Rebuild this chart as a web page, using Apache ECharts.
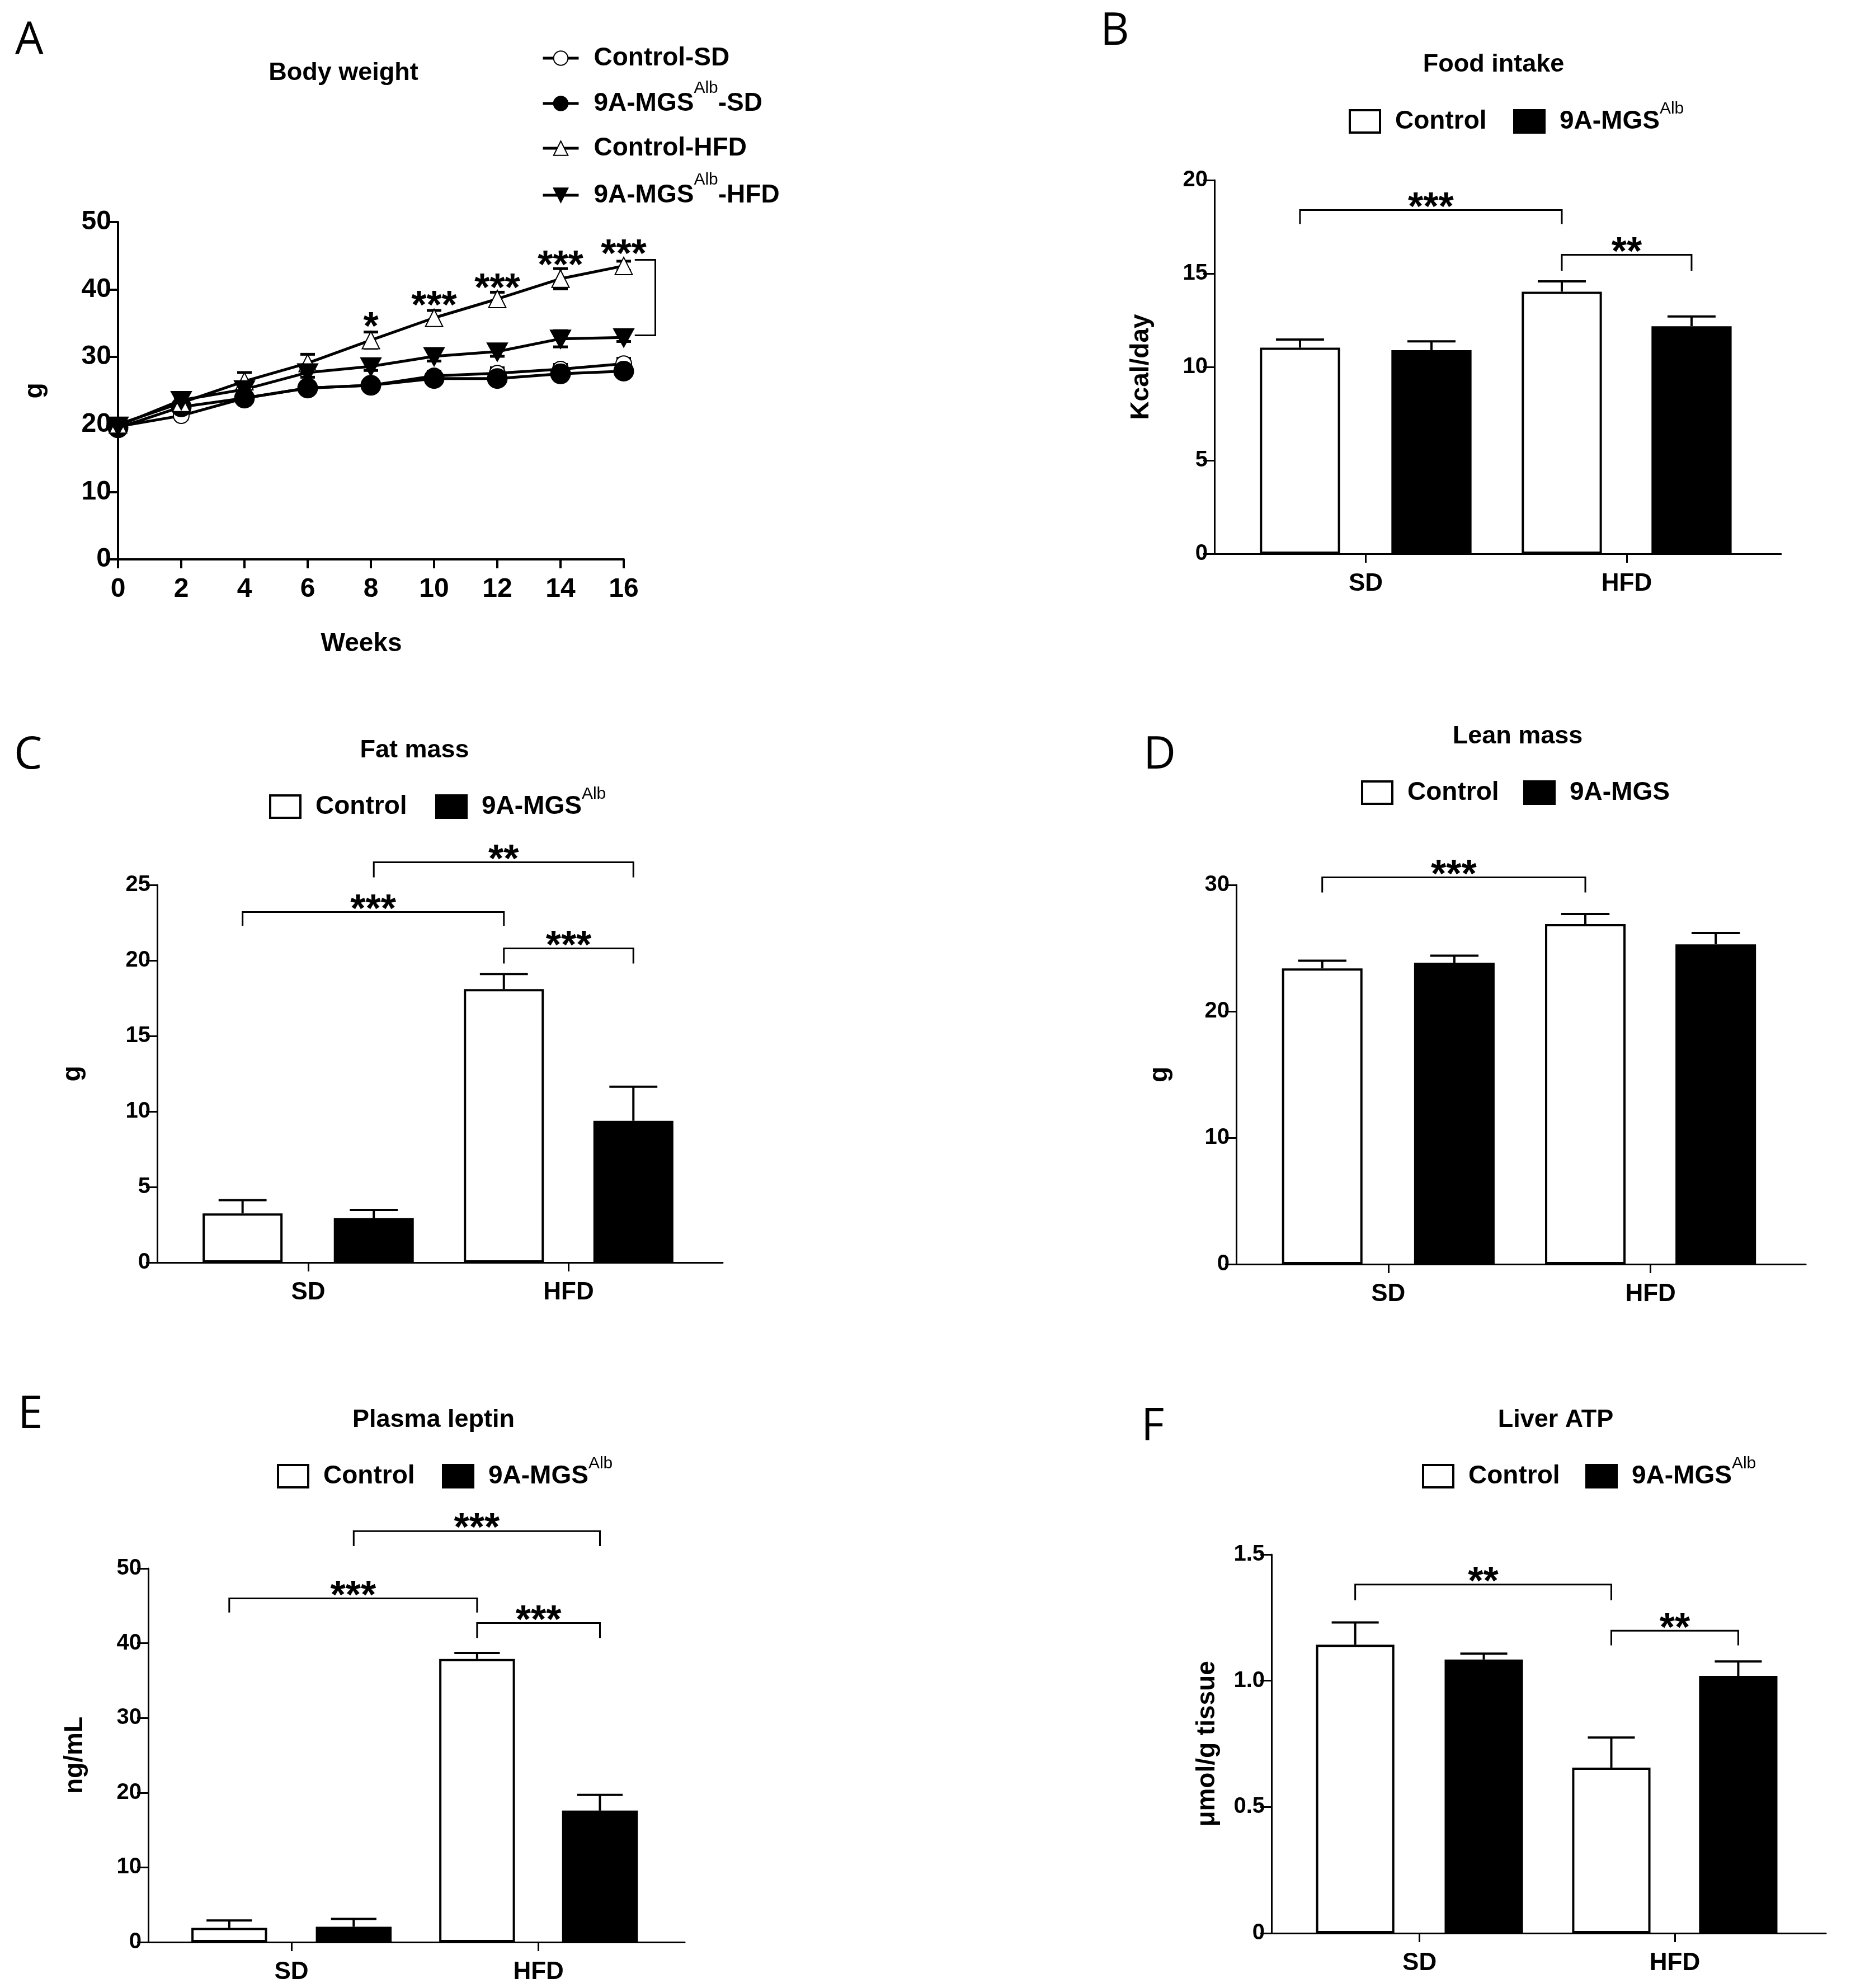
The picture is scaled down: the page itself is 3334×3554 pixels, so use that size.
<!DOCTYPE html>
<html>
<head>
<meta charset="utf-8">
<title>Body weight panels</title>
<script src="https://cdn.jsdelivr.net/npm/echarts@6/dist/echarts.min.js"></script>
<style>
  html, body { margin: 0; padding: 0; background: #fff; }
  #main { width: 3334px; height: 3554px; }
</style>
</head>
<body>
<div id="main"></div>
<script>
// ---- data ----
var weeks = [0, 2, 4, 6, 8, 10, 12, 14, 16];
var bwControlSD = [19.7, 21.3, 23.9, 25.4, 25.8, 27.2, 27.6, 28.2, 29.0];
var bwMgsSD = [19.5, 22.6, 23.9, 25.4, 25.8, 26.8, 26.8, 27.5, 27.9];
var bwControlHFD = [20.0, 23.2, 26.4, 29.1, 32.5, 35.8, 38.6, 41.6, 43.5];
var bwMgsHFD = [19.8, 23.6, 25.2, 27.7, 28.6, 30.1, 30.8, 32.7, 32.9];
var bwControlSDErr = [0.5, 0.5, 0.6, 0.6, 0.6, 0.7, 0.8, 0.7, 0.8];
var bwMgsSDErr = [0.4, 0.5, 0.5, 0.6, 0.5, 0.5, 0.5, 0.5, 0.5];
var bwControlHFDErr = [0.6, 0.8, 1.3, 1.3, 1.2, 1.1, 1.0, 1.5, 0.7];
var bwMgsHFDErr = [0.5, 0.6, 0.7, 0.7, 0.6, 0.7, 0.7, 1.2, 0.6];
var starWeeks = [8, 10, 12, 14, 16];
var starLevels = [35.5, 38.7, 41.2, 44.6, 46.3];
var starTexts = ['*', '***', '***', '***', '***'];

var groups = ['SD', 'HFD'];

var foodControl = [11.03, 14.03], foodControlErr = [0.44, 0.55];
var foodMgs = [10.9, 12.18], foodMgsErr = [0.47, 0.52];
var foodTicks = [0, 5, 10, 15, 20];

var fatControl = [3.25, 18.1], fatControlErr = [0.88, 1.0];
var fatMgs = [2.94, 9.38], fatMgsErr = [0.54, 2.26];
var fatTicks = [0, 5, 10, 15, 20, 25];

var leanControl = [23.4, 26.9], leanControlErr = [0.6, 0.8];
var leanMgs = [23.85, 25.3], leanMgsErr = [0.55, 0.9];
var leanTicks = [0, 10, 20, 30];

var leptinControl = [1.9, 37.9], leptinControlErr = [1.0, 0.8];
var leptinMgs = [2.05, 17.6], leptinMgsErr = [1.05, 2.1];
var leptinTicks = [0, 10, 20, 30, 40, 50];

var atpControl = [1.143, 0.656], atpControlErr = [0.088, 0.119];
var atpMgs = [1.084, 1.019], atpMgsErr = [0.023, 0.057];
var atpTicks = [0, 0.5, 1.0, 1.5];

// brackets: [fromGroup, fromBar, toGroup, toBar, level, leg, stars]
var foodBrackets = [[0, 0, 1, 0, 18.4, 0.75, '***'], [1, 0, 1, 1, 16.0, 0.85, '**']];
var fatBrackets = [[0, 1, 1, 1, 26.5, 1.0, '**'], [0, 0, 1, 0, 23.2, 0.9, '***'], [1, 0, 1, 1, 20.8, 1.0, '***']];
var leanBrackets = [[0, 0, 1, 0, 30.6, 1.2, '***']];
var leptinBrackets = [[0, 1, 1, 1, 55, 2.0, '***'], [0, 0, 1, 0, 46, 1.9, '***'], [1, 0, 1, 1, 42.7, 2.0, '***']];
var atpBrackets = [[0, 0, 1, 0, 1.381, 0.062, '**'], [1, 0, 1, 1, 1.198, 0.058, '**']];

// ---- styling / layout ----
var FONT = '"Liberation Sans", Arial, sans-serif';
var LETTER = '"Open Sans", "DejaVu Sans", sans-serif';
// GraphPad-like spacing: bar centres as a fraction of the x axis length
var SLOTS = [0.151, 0.383, 0.613, 0.842];
var GROUP_POS = [0.267, 0.7275];
var BAR_FRAC = 0.1454;

function slotPos(group, bar) { return SLOTS[group * 2 + bar]; }

var chart = echarts.init(document.getElementById('main'), null, { renderer: 'canvas' });

var option = {
    backgroundColor: '#fff',
    animation: false,
    grid: [], xAxis: [], yAxis: [], series: [], legend: [], graphic: []
};

function blackLine(w) { return { color: '#000', width: w }; }

function addText(x, y, text, font, align) {
    option.graphic.push({
        type: 'text', x: x, y: y, silent: true,
        style: { text: text, font: font, fill: '#000', align: align || 'center', verticalAlign: 'middle' }
    });
}

function valueAxis(gi, ticks, name, nameGap, fmt) {
    return {
        gridIndex: gi, type: 'value',
        min: ticks[0], max: ticks[ticks.length - 1], interval: ticks[1] - ticks[0],
        name: name, nameLocation: 'middle', nameRotate: 90, nameGap: nameGap,
        nameTextStyle: { fontFamily: FONT, fontSize: 46, fontWeight: 'bold', color: '#000' },
        axisLine: { show: true, lineStyle: blackLine(3) },
        axisTick: { show: true, length: 20, lineStyle: blackLine(3) },
        axisLabel: { fontFamily: FONT, fontSize: 40, fontWeight: 'bold', color: '#000', margin: 12, formatter: fmt },
        splitLine: { show: false }
    };
}

// one legend per item so each sits exactly where the figure has it.
// A rich label is laid out by its full line box, so the box top is pulled back up.
function addLegend(x, yCenter, label, item, w, h, size, supSize, lh) {
    var hasSup = label.indexOf('{s|') >= 0;
    var shift = hasSup ? lh / 2 - h / 2 : Math.max(0, size / 2 - h / 2);
    option.legend.push({
        left: x, top: yCenter - 5 - h / 2 - shift, orient: 'horizontal',
        itemWidth: w, itemHeight: h, selectedMode: false,
        data: [item],
        formatter: function () { return label; },
        textStyle: {
            padding: [0, 0, 0, 22],
            rich: {
                b: { fontFamily: FONT, fontSize: size, fontWeight: 'bold', color: '#000', lineHeight: hasSup ? lh : undefined },
                s: { fontFamily: FONT, fontSize: supSize, fontWeight: 'normal', color: '#000', verticalAlign: 'top' }
            }
        }
    });
}

function addBarPanel(p) {
    var gi = option.grid.length;
    option.grid.push({ left: p.left, top: p.top, width: p.width, height: p.height, outerBoundsMode: 'none' });
    option.xAxis.push({
        gridIndex: gi, type: 'value', min: 0, max: 1,
        axisLine: { show: true, onZero: false, lineStyle: blackLine(3) },
        axisTick: { show: true, length: 16, customValues: GROUP_POS, lineStyle: blackLine(3) },
        axisLabel: {
            fontFamily: FONT, fontSize: 44, fontWeight: 'bold', color: '#000', margin: 32,
            customValues: GROUP_POS,
            formatter: function (v) { return Math.abs(v - GROUP_POS[0]) < Math.abs(v - GROUP_POS[1]) ? groups[0] : groups[1]; }
        },
        splitLine: { show: false }
    });
    option.yAxis.push(valueAxis(gi, p.ticks, p.yName, p.nameGap, p.fmt));

    var bw = BAR_FRAC * p.width - 4;
    option.series.push({
        name: 'Control', type: 'bar', xAxisIndex: gi, yAxisIndex: gi, z: 3,
        data: p.ctrl.map(function (v, i) { return [slotPos(i, 0), v]; }),
        barWidth: bw, barGap: '-100%',
        itemStyle: { color: '#fff', borderColor: '#000', borderWidth: 4 }
    });
    option.series.push({
        name: '9A-MGS', type: 'bar', xAxisIndex: gi, yAxisIndex: gi, z: 3,
        data: p.mgs.map(function (v, i) { return [slotPos(i, 1), v]; }),
        barWidth: bw, barGap: '-100%',
        itemStyle: { color: '#000', borderColor: '#000', borderWidth: 4 }
    });

    var errData = [];
    p.ctrl.forEach(function (v, i) { errData.push([slotPos(i, 0), v, p.ctrlErr[i]]); });
    p.mgs.forEach(function (v, i) { errData.push([slotPos(i, 1), v, p.mgsErr[i]]); });
    option.series.push({
        name: 'err' + gi, type: 'custom', xAxisIndex: gi, yAxisIndex: gi, data: errData, z: 4, clip: false,
        renderItem: function (params, api) {
            var x0 = api.value(0), m = api.value(1), e = api.value(2);
            var p0 = api.coord([x0, m]), p1 = api.coord([x0, m + e]);
            var cap = bw * 0.3;
            return {
                type: 'group', children: [
                    { type: 'line', shape: { x1: p0[0], y1: p0[1], x2: p0[0], y2: p1[1] }, style: { stroke: '#000', lineWidth: 4 } },
                    { type: 'line', shape: { x1: p0[0] - cap, y1: p1[1], x2: p0[0] + cap, y2: p1[1] }, style: { stroke: '#000', lineWidth: 4 } }
                ]
            };
        }
    });

    var br = p.brackets;
    option.series.push({
        name: 'sig' + gi, type: 'custom', xAxisIndex: gi, yAxisIndex: gi, z: 5, clip: false,
        data: br.map(function (b) { return [slotPos(b[0], b[1]), b[4]]; }),
        renderItem: function (params, api) {
            var b = br[params.dataIndex];
            var a = api.coord([slotPos(b[0], b[1]), b[4]]);
            var c = api.coord([slotPos(b[2], b[3]), b[4]]);
            var leg = api.coord([0, b[4] - b[5]])[1];
            return {
                type: 'group', children: [
                    { type: 'polyline', shape: { points: [[a[0], leg], [a[0], a[1]], [c[0], a[1]], [c[0], leg]] },
                      style: { stroke: '#000', lineWidth: 3, fill: null } },
                    { type: 'text', style: { x: (a[0] + c[0]) / 2, y: a[1] - 2, text: b[6], fill: '#000',
                      font: 'bold 70px ' + FONT, align: 'center', verticalAlign: 'middle' } }
                ]
            };
        }
    });

    addText(p.titleX, p.titleY, p.title, 'bold 45px ' + FONT, 'center');
    addText(p.letterX, p.letterY, p.letter, '80px ' + LETTER, 'left');
    addLegend(p.legendX[0], p.legendY, '{b|Control}',
        { name: 'Control', icon: 'rect', itemStyle: { color: '#fff', borderColor: '#000', borderWidth: 4 } }, 54, 40, 46, 30, 74);
    addLegend(p.legendX[1], p.legendY, p.mgsLabel,
        { name: '9A-MGS', icon: 'rect', itemStyle: { color: '#000', borderColor: '#000', borderWidth: 4 } }, 54, 40, 46, 30, 74);
}

// ---- panel A: body weight ----
option.grid.push({ left: 211, top: 397, width: 904, height: 603, outerBoundsMode: 'none' });
option.xAxis.push({
    gridIndex: 0, type: 'value', min: 0, max: 16, interval: 2,
    name: 'Weeks', nameLocation: 'middle', nameGap: 128,
    nameTextStyle: { fontFamily: FONT, fontSize: 46, fontWeight: 'bold', color: '#000', padding: [0, 34, 0, 0] },
    axisLine: { show: true, lineStyle: blackLine(4) },
    axisTick: { show: true, length: 16, lineStyle: blackLine(4) },
    axisLabel: { fontFamily: FONT, fontSize: 48, fontWeight: 'bold', color: '#000', margin: 30 },
    splitLine: { show: false }
});
var yA = valueAxis(0, [0, 10, 20, 30, 40, 50], 'g', 126);
yA.axisLine.lineStyle.width = 4;
yA.axisTick.length = 16;
yA.axisTick.lineStyle.width = 4;
yA.axisLabel.fontSize = 48;
yA.axisLabel.margin = 12;
option.yAxis.push(yA);

function lineSeries(name, vals, symbol, size) {
    return {
        name: name, type: 'line', xAxisIndex: 0, yAxisIndex: 0, z: 3,
        data: weeks.map(function (w, i) { return [w, vals[i]]; }),
        symbol: symbol, symbolSize: size, showAllSymbol: true,
        lineStyle: { color: '#000', width: 5 },
        itemStyle: { color: '#000', borderColor: '#000', borderWidth: 5 }
    };
}
option.series.push(lineSeries('Control-SD', bwControlSD, 'emptyCircle', 28));
option.series.push(lineSeries('9A-MGS-SD', bwMgsSD, 'circle', 32));
option.series.push(lineSeries('Control-HFD', bwControlHFD, 'emptyTriangle', 31));
option.series.push(lineSeries('9A-MGS-HFD', bwMgsHFD, 'path://M0,0L10,0L5,9Z', [31, 28]));

var bwErr = [];
[[bwControlSD, bwControlSDErr], [bwMgsSD, bwMgsSDErr], [bwControlHFD, bwControlHFDErr], [bwMgsHFD, bwMgsHFDErr]]
    .forEach(function (pair) {
        weeks.forEach(function (w, i) { bwErr.push([w, pair[0][i], pair[1][i]]); });
    });
option.series.push({
    name: 'bwErr', type: 'custom', xAxisIndex: 0, yAxisIndex: 0, z: 2, clip: false, data: bwErr,
    renderItem: function (params, api) {
        var w = api.value(0), m = api.value(1), e = api.value(2);
        var lo = api.coord([w, m - e]), hi = api.coord([w, m + e]);
        var x = lo[0], cap = 13;
        return {
            type: 'group', children: [
                { type: 'line', shape: { x1: x, y1: lo[1], x2: x, y2: hi[1] }, style: { stroke: '#000', lineWidth: 4 } },
                { type: 'line', shape: { x1: x - cap, y1: hi[1], x2: x + cap, y2: hi[1] }, style: { stroke: '#000', lineWidth: 5 } },
                { type: 'line', shape: { x1: x - cap, y1: lo[1], x2: x + cap, y2: lo[1] }, style: { stroke: '#000', lineWidth: 5 } }
            ]
        };
    }
});
option.series.push({
    name: 'bwStars', type: 'custom', xAxisIndex: 0, yAxisIndex: 0, z: 5, clip: false,
    data: starWeeks.map(function (w, i) { return [w, starLevels[i]]; }),
    renderItem: function (params, api) {
        var p = api.coord([api.value(0), api.value(1)]);
        return { type: 'text', style: { x: p[0], y: p[1] + 16, text: starTexts[params.dataIndex], fill: '#000',
            font: 'bold 70px ' + FONT, align: 'center', verticalAlign: 'middle' } };
    }
});
// bracket between the two HFD curves at week 16
var hfdBracket = [[16.35, 44.4], [17, 44.4], [17, 33.2], [16.35, 33.2]];
option.series.push({
    name: 'bwBracket', type: 'custom', xAxisIndex: 0, yAxisIndex: 0, z: 5, clip: false,
    data: [hfdBracket[0]],
    renderItem: function (params, api) {
        return { type: 'polyline', shape: { points: hfdBracket.map(function (q) { return api.coord(q); }) },
            style: { stroke: '#000', lineWidth: 3, fill: null } };
    }
});
var bwLegendRows = [104, 185, 265, 349];
var bwLegendLabels = ['{b|Control-SD}', '{b|9A-MGS}{s|Alb}{b|-SD}', '{b|Control-HFD}', '{b|9A-MGS}{s|Alb}{b|-HFD}'];
['Control-SD', '9A-MGS-SD', 'Control-HFD', '9A-MGS-HFD'].forEach(function (n, i) {
    addLegend(963, bwLegendRows[i], bwLegendLabels[i],
        { name: n, lineStyle: { color: '#000', width: 5 } }, 64, 32, 46, 30, 84);
});
addText(614, 131, 'Body weight', 'bold 45px ' + FONT, 'center');
addText(27, 73, 'A', '80px ' + LETTER, 'left');

// ---- panels B-F ----
var SUP = '{b|9A-MGS}{s|Alb}';
addBarPanel({ left: 2171, top: 322, width: 1013, height: 668, ticks: foodTicks, yName: 'Kcal/day', nameGap: 108,
    ctrl: foodControl, ctrlErr: foodControlErr, mgs: foodMgs, mgsErr: foodMgsErr, brackets: foodBrackets,
    title: 'Food intake', titleX: 2670, titleY: 116, letter: 'B', letterX: 1967, letterY: 57,
    legendX: [2406, 2700], legendY: 217, mgsLabel: SUP });
addBarPanel({ left: 281, top: 1582, width: 1011, height: 675, ticks: fatTicks, yName: 'g', nameGap: 128,
    ctrl: fatControl, ctrlErr: fatControlErr, mgs: fatMgs, mgsErr: fatMgsErr, brackets: fatBrackets,
    title: 'Fat mass', titleX: 741, titleY: 1342, letter: 'C', letterX: 25, letterY: 1351,
    legendX: [476, 773], legendY: 1442, mgsLabel: SUP });
addBarPanel({ left: 2210, top: 1582, width: 1018, height: 678, ticks: leanTicks, yName: 'g', nameGap: 114,
    ctrl: leanControl, ctrlErr: leanControlErr, mgs: leanMgs, mgsErr: leanMgsErr, brackets: leanBrackets,
    title: 'Lean mass', titleX: 2713, titleY: 1317, letter: 'D', letterX: 2044, letterY: 1351,
    legendX: [2428, 2718], legendY: 1417, mgsLabel: '{b|9A-MGS}' });
addBarPanel({ left: 265, top: 2804, width: 959, height: 668, ticks: leptinTicks, yName: 'ng/mL', nameGap: 108,
    ctrl: leptinControl, ctrlErr: leptinControlErr, mgs: leptinMgs, mgsErr: leptinMgsErr, brackets: leptinBrackets,
    title: 'Plasma leptin', titleX: 775, titleY: 2539, letter: 'E', letterX: 32, letterY: 2530,
    legendX: [490, 785], legendY: 2639, mgsLabel: SUP });
addBarPanel({ left: 2273, top: 2779, width: 991, height: 677, ticks: atpTicks, yName: 'μmol/g tissue', nameGap: 92,
    ctrl: atpControl, ctrlErr: atpControlErr, mgs: atpMgs, mgsErr: atpMgsErr, brackets: atpBrackets,
    fmt: function (v) { return v === 0 ? '0' : v.toFixed(1); },
    title: 'Liver ATP', titleX: 2781, titleY: 2539, letter: 'F', letterX: 2040, letterY: 2552,
    legendX: [2537, 2829], legendY: 2639, mgsLabel: SUP });

chart.setOption(option);
window.addEventListener('resize', function () { chart.resize(); });
</script>
</body>
</html>
